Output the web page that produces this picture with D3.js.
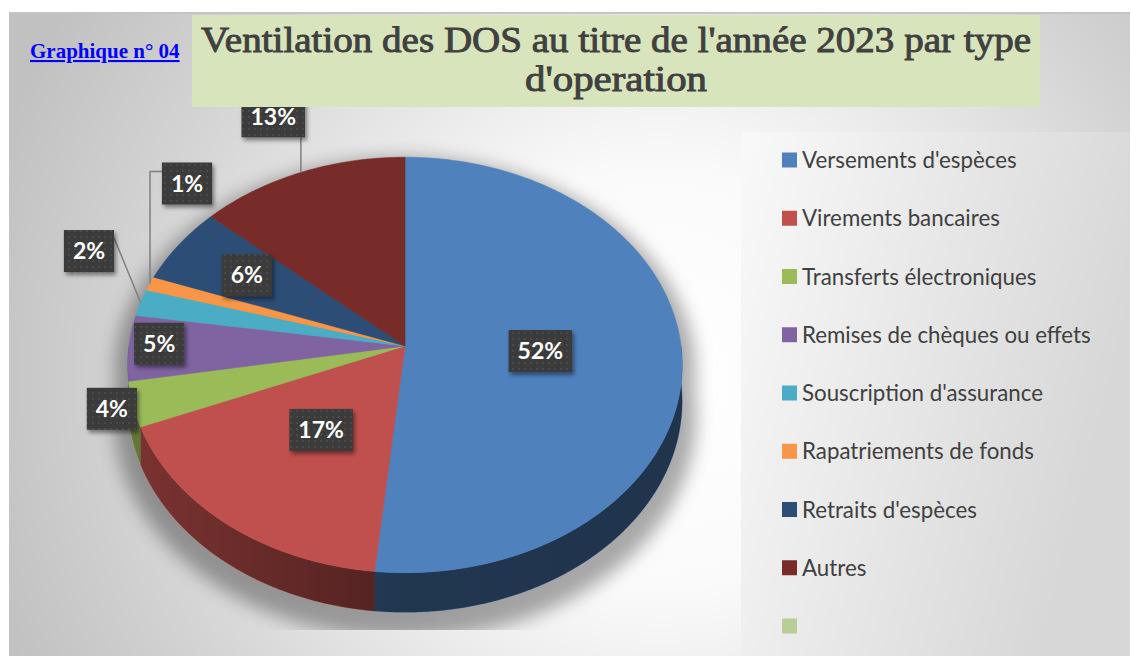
<!DOCTYPE html>
<html>
<head>
<meta charset="utf-8">
<script src="https://cdn.jsdelivr.net/npm/d3@7"></script>
<style>
body { margin: 0; background: #fff; }
svg { display: block; }
</style>
</head>
<body>
<svg id="chart" width="1131" height="657"></svg>
<script>
// data (shares in %)
var categories = ["Versements d'espèces", "Virements bancaires", "Transferts électroniques",
    "Remises de chèques ou effets", "Souscription d'assurance", "Rapatriements de fonds",
    "Retraits d'espèces", "Autres", ""];
var shares = [51.6, 17.2, 3.5, 5.1, 2.1, 1.1, 6.0, 13.4, 0];
var colors = ["#4f81bd", "#c0504d", "#9bbb59", "#8064a2", "#4bacc6", "#f79646", "#2c4d75", "#772c2a", "#b9cd96"];
var titleLines = ["Ventilation des DOS au titre de l'année 2023 par type", "d'operation"];
var titleWidths = [830, 182];
var caption = "Graphique n° 04";

// label placement (radius factor along mid angle, pixel nudge, leader kind)
var labelR = [0.49, 0.49, 1.075, 0.89, 1.2, 1.0, 0.69, 1.36];
var labelNudge = [[0, 0], [0, 0], [0, 0], [0, -4], [0, -43], [37, -100], [0, 0], [6, 0]];
var leaderType = ["", "", "", "", "diag", "elbow", "", "v"];

var svg = d3.select("#chart");
var defs = svg.append("defs");

// background gradients
var bg = defs.append("radialGradient").attr("id", "bgGrad")
    .attr("gradientUnits", "userSpaceOnUse")
    .attr("cx", 660).attr("cy", 380).attr("r", 700);
bg.append("stop").attr("offset", 0).attr("stop-color", "#ffffff");
bg.append("stop").attr("offset", 0.3).attr("stop-color", "#fafafa");
bg.append("stop").attr("offset", 0.75).attr("stop-color", "#d4d4d4");
bg.append("stop").attr("offset", 1).attr("stop-color", "#c1c1c1");

var lg = defs.append("linearGradient").attr("id", "legGrad")
    .attr("x1", 0).attr("y1", 0).attr("x2", 1).attr("y2", 0.35);
lg.append("stop").attr("offset", 0).attr("stop-color", "#f9f9f9");
lg.append("stop").attr("offset", 1).attr("stop-color", "#d7d7d7");

// side shading (darker to the right)
var sg = defs.append("linearGradient").attr("id", "sideShade")
    .attr("gradientUnits", "userSpaceOnUse")
    .attr("x1", 129).attr("y1", 0).attr("x2", 681).attr("y2", 0);
sg.append("stop").attr("offset", 0).attr("stop-color", "#000").attr("stop-opacity", 0.36);
sg.append("stop").attr("offset", 0.5).attr("stop-color", "#000").attr("stop-opacity", 0.58);
sg.append("stop").attr("offset", 1).attr("stop-color", "#000").attr("stop-opacity", 0.6);

defs.append("filter").attr("id", "blurShadow")
    .attr("x", -0.2).attr("y", -0.2).attr("width", 1.4).attr("height", 1.4)
  .append("feGaussianBlur").attr("stdDeviation", 9);

defs.append("filter").attr("id", "boxShadow")
    .attr("x", -0.3).attr("y", -0.3).attr("width", 1.6).attr("height", 1.6)
  .append("feDropShadow").attr("dx", 2).attr("dy", 3).attr("stdDeviation", 2)
    .attr("flood-color", "#000").attr("flood-opacity", 0.45);

var pat = defs.append("pattern").attr("id", "dots")
    .attr("patternUnits", "userSpaceOnUse").attr("width", 6).attr("height", 6);
pat.append("rect").attr("width", 6).attr("height", 6).attr("fill", "#3a3a3a");
pat.append("circle").attr("cx", 3).attr("cy", 3).attr("r", 0.9).attr("fill", "#525252");

defs.append("clipPath").attr("id", "groundClip")
  .append("rect").attr("x", 0).attr("y", 0).attr("width", 1131).attr("height", 630);

// frame
svg.append("rect").attr("x", 9).attr("y", 13).attr("width", 1121).attr("height", 643)
    .attr("fill", "url(#bgGrad)");
svg.append("line").attr("x1", 9).attr("x2", 1130).attr("y1", 13).attr("y2", 13)
    .attr("stroke", "#c4c4c4").attr("stroke-width", 2);

// legend panel
svg.append("rect").attr("x", 741).attr("y", 132).attr("width", 389).attr("height", 524)
    .attr("fill", "url(#legGrad)");

// 3d pie projection
var cx = 405, cy = 346, rx = 276, ry = 206, persp = 0.0913, depth = 36;
function proj(a, r, z) {
    var X = r * Math.sin(a), Y = -r * Math.cos(a);
    var w = 1 - persp * Y;
    return [cx + rx * X / w, cy + (ry * Y + z) / w];
}
function arcPts(a0, a1, r, z) {
    var n = Math.max(2, Math.ceil(Math.abs(a1 - a0) / (Math.PI / 360)));
    var pts = [];
    for (var i = 0; i <= n; i++) pts.push(proj(a0 + (a1 - a0) * i / n, r, z));
    return pts;
}
var line = d3.line().curve(d3.curveLinear);

var arcs = d3.pie().sort(null).value(function (d) { return d; })(shares);

// soft shadow
var sil = arcPts(-Math.PI / 2, Math.PI / 2, 1.05, 10).concat(arcPts(Math.PI / 2, 1.5 * Math.PI, 1.05, depth + 12));
svg.append("g").attr("clip-path", "url(#groundClip)")
  .append("path").attr("d", line(sil) + "Z")
    .attr("fill", "#000").attr("opacity", 0.33)
    .attr("filter", "url(#blurShadow)");

// sides
var gSide = svg.append("g");
arcs.forEach(function (d, i) {
    var s = Math.max(d.startAngle, Math.PI / 2), e = Math.min(d.endAngle, 1.5 * Math.PI);
    if (e <= s) return;
    var pts = arcPts(s, e, 1, 0).concat(arcPts(e, s, 1, depth));
    gSide.append("path").attr("d", line(pts) + "Z")
        .attr("fill", colors[i]).attr("stroke", colors[i]).attr("stroke-width", 0.5);
});
var band = arcPts(Math.PI / 2, 1.5 * Math.PI, 1, 0).concat(arcPts(1.5 * Math.PI, Math.PI / 2, 1, depth));
gSide.append("path").attr("d", line(band) + "Z").attr("fill", "url(#sideShade)");

// top faces
var gTop = svg.append("g");
arcs.forEach(function (d, i) {
    if (d.value <= 0) return;
    var pts = [[cx, cy]].concat(arcPts(d.startAngle, d.endAngle, 1, 0));
    gTop.append("path").attr("d", line(pts) + "Z")
        .attr("fill", colors[i]).attr("stroke", colors[i]).attr("stroke-width", 0.6);
});

// data labels
var gLead = svg.append("g");
var gLab = svg.append("g");
arcs.forEach(function (d, i) {
    if (d.value <= 0) return;
    var mid = (d.startAngle + d.endAngle) / 2;
    var p = proj(mid, labelR[i], 0);
    var x = p[0] + labelNudge[i][0], y = p[1] + labelNudge[i][1];
    var g = gLab.append("g");
    var rect = g.append("rect");
    var t = g.append("text").attr("x", x).attr("y", y).attr("dy", "0.36em")
        .attr("text-anchor", "middle").attr("fill", "#fff")
        .style("font-family", "Lato, 'Noto Sans', sans-serif")
        .style("font-weight", "bold").style("font-size", "23px")
        .text(Math.round(d.value) + "%");
    var w = t.node().getComputedTextLength() + 18, h = 42;
    var bx = x - w / 2, by = y - h / 2;
    rect.attr("x", bx).attr("y", by).attr("width", w).attr("height", h)
        .attr("fill", "url(#dots)").attr("filter", "url(#boxShadow)");

    var a = proj(mid, 1, 0), path = null;
    if (leaderType[i] === "v") path = "M" + a[0] + "," + (by + h) + "V" + a[1];
    if (leaderType[i] === "elbow") path = "M" + bx + "," + (by + 9) + "H" + a[0] + "V" + a[1];
    if (leaderType[i] === "diag") path = "M" + (bx + w) + "," + (by + 8) + "L" + a[0] + "," + a[1];
    if (path) gLead.append("path").attr("d", path).attr("fill", "none")
        .attr("stroke", "#808080").attr("stroke-width", 1.5);
});

// legend
var legY = d3.scalePoint().domain(d3.range(categories.length)).range([160, 626]);
var gLeg = svg.append("g");
categories.forEach(function (c, i) {
    var y = legY(i);
    gLeg.append("rect").attr("x", 782).attr("y", y - 7.5).attr("width", 15).attr("height", 15)
        .attr("fill", colors[i]);
    gLeg.append("text").attr("x", 802).attr("y", y).attr("dy", "0.36em")
        .attr("fill", "#404040")
        .style("font-family", "Lato, 'Noto Sans', sans-serif").style("font-size", "22.3px")
        .text(c);
});

// title box
svg.append("rect").attr("x", 192).attr("y", 15).attr("width", 848).attr("height", 92)
    .attr("fill", "#d8e4bc");
var tg = svg.append("g");
titleLines.forEach(function (s, i) {
    tg.append("text").attr("x", 616).attr("y", 52 + i * 39)
        .attr("text-anchor", "middle").attr("fill", "#404040")
        .attr("stroke", "#404040").attr("stroke-width", 0.9)
        .attr("textLength", titleWidths[i]).attr("lengthAdjust", "spacingAndGlyphs")
        .style("font-family", "'Liberation Serif', 'Times New Roman', serif")
        .style("font-size", "35px")
        .text(s);
});

svg.append("text").attr("x", 30).attr("y", 58)
    .attr("fill", "#0000ff")
    .style("font-family", "'Liberation Serif', 'Times New Roman', serif")
    .style("font-weight", "bold").style("font-size", "21px")
    .style("text-decoration", "underline")
    .text(caption);
</script>
</body>
</html>
